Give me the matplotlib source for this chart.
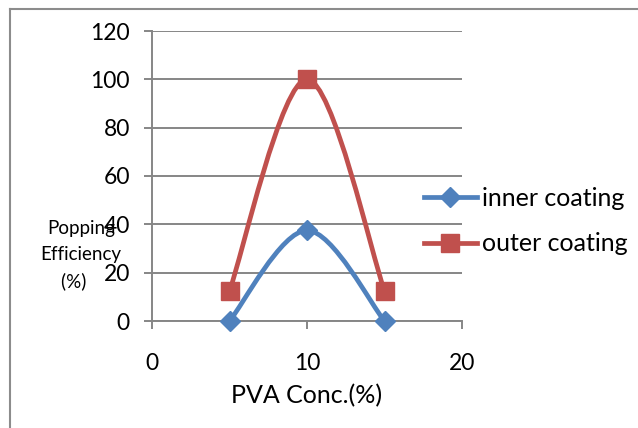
import numpy as np
import matplotlib
matplotlib.use("Agg")
import matplotlib.pyplot as plt
from matplotlib.path import Path
from matplotlib.patches import PathPatch
from matplotlib.lines import Line2D

plt.rcParams['font.family'] = ['Lato', 'DejaVu Sans']

# Data
pva_conc = [5, 10, 15]
inner_coating = [0, 37.5, 0]
outer_coating = [12.5, 100, 12.5]
x_ticks = [0, 10, 20]
y_ticks = [0, 20, 40, 60, 80, 100, 120]

BLUE = '#4F81BD'
RED = '#C0504D'
GRID = '#868686'


def smooth_path(xs, ys):
    """Cubic Bezier through the points, spreadsheet-style smoothing."""
    pts = np.column_stack([xs, ys]).astype(float)
    n = len(pts)
    verts = [pts[0]]
    codes = [Path.MOVETO]
    for i in range(n - 1):
        p0 = pts[i - 1] if i > 0 else pts[i]
        p1 = pts[i]
        p2 = pts[i + 1]
        p3 = pts[i + 2] if i + 2 < n else pts[i + 1]
        c1 = p1 + (p2 - p0) / 6.0
        c2 = p2 - (p3 - p1) / 6.0
        verts += [c1, c2, p2]
        codes += [Path.CURVE4] * 3
    return Path(verts, codes)


fig = plt.figure(figsize=(6.38, 4.28), dpi=100)
ax = fig.add_axes([152 / 638, 1 - 321 / 428, 310 / 638, 290 / 428])

ax.set_xlim(0, 20)
ax.set_ylim(0, 120)

LW = 3.4
for series, color, marker, ms in [(inner_coating, BLUE, 'D', 10),
                                  (outer_coating, RED, 's', 13)]:
    patch = PathPatch(smooth_path(pva_conc, series), facecolor='none',
                      edgecolor=color, lw=LW, capstyle='round',
                      joinstyle='round', zorder=3, clip_on=False)
    ax.add_patch(patch)
    ax.plot(pva_conc, series, linestyle='none', marker=marker, ms=ms,
            color=color, zorder=4, clip_on=False)

ax.set_xticks(x_ticks)
ax.set_yticks(y_ticks)
ax.yaxis.grid(True, color=GRID, lw=1.4)
ax.set_axisbelow(True)
for side in ['top', 'right']:
    ax.spines[side].set_visible(False)
for side in ['left', 'bottom']:
    ax.spines[side].set_color(GRID)
    ax.spines[side].set_linewidth(1.4)
ax.tick_params(axis='both', direction='out', length=6, width=1.4,
               color=GRID, labelsize=16.5, labelcolor='black')
ax.tick_params(axis='x', pad=17)
ax.tick_params(axis='y', pad=10)

ax.set_xlabel('PVA Conc.(%)', fontsize=18, va='center')
ax.xaxis.set_label_coords(0.5, (321 - 396) / 290)
fig.text(81 / 638, 1 - 255 / 428, 'Popping\nEfficiency\n(%)   ', ha='center',
         va='center', fontsize=13.5, linespacing=1.65, zorder=0)

handles = [Line2D([], [], color=BLUE, lw=LW, marker='D', ms=10),
           Line2D([], [], color=RED, lw=LW, marker='s', ms=13)]
fig.legend(handles, ['inner coating', 'outer coating'],
           loc='center left', bbox_to_anchor=(424 / 638, 1 - 221 / 428),
           frameon=False, fontsize=18, handlelength=2.1, handletextpad=0.2,
           labelspacing=0.9, borderpad=0, borderaxespad=0)

# Outer frame
fig.add_artist(Line2D([10 / 638, 10 / 638], [0, 1 - 9 / 428], color='#8c8c8c',
                      lw=1.5, transform=fig.transFigure))
fig.add_artist(Line2D([10 / 638, 1], [1 - 9 / 428, 1 - 9 / 428], color='#8c8c8c',
                      lw=1.5, transform=fig.transFigure))

fig.savefig('out.png', dpi=100)
